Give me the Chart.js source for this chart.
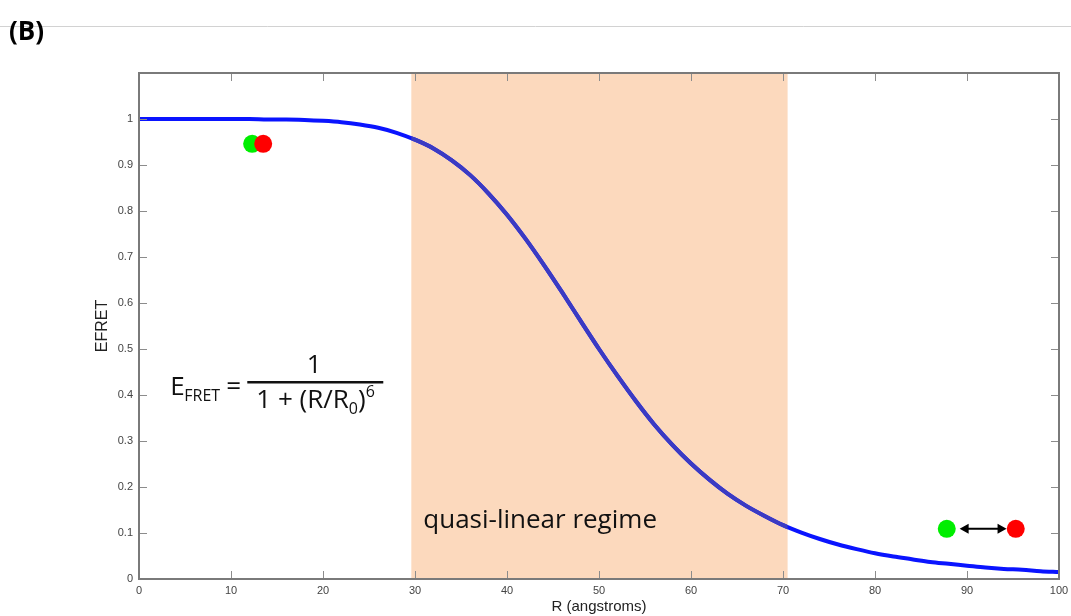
<!DOCTYPE html>
<html>
<head>
<meta charset="utf-8">
<script src="https://cdn.jsdelivr.net/npm/chart.js@4.4.1/dist/chart.umd.min.js"></script>
<style>
  html, body { margin: 0; padding: 0; background: #fff; }
  #wrap { width: 1071px; height: 616px; }
</style>
</head>
<body>
<div id="wrap"><canvas id="fretChart" width="1071" height="616"></canvas></div>
<script>
// FRET efficiency curve
const rValues = [0, 2, 4, 6, 8, 10, 12, 14, 16, 18, 20, 22, 24, 26, 28, 30, 32, 34, 36, 38, 40,
  42, 44, 46, 48, 50, 52, 54, 56, 58, 60, 62, 64, 66, 68, 70, 72, 74, 76, 78, 80,
  82, 84, 86, 88, 90, 92, 94, 96, 98, 100];
const efretValues = [1.000, 1.000, 1.000, 1.000, 1.000, 1.000, 1.000, 0.999, 0.999, 0.998, 0.996,
  0.993, 0.988, 0.981, 0.970, 0.955, 0.936, 0.910, 0.878, 0.838, 0.792,
  0.740, 0.683, 0.623, 0.561, 0.500, 0.442, 0.387, 0.336, 0.291, 0.251,
  0.216, 0.185, 0.159, 0.137, 0.117, 0.101, 0.087, 0.075, 0.065, 0.056,
  0.049, 0.043, 0.037, 0.033, 0.029, 0.025, 0.022, 0.020, 0.017, 0.015];

// shaded "quasi-linear regime" range
const bandRange = [29.6, 70.5];

// donor (green) / acceptor (red) dots: close pair, far pair
const greenX = [12.3, 87.8];
const greenY = [0.946, 0.109];
const redX = [13.5, 95.3];
const redY = [0.946, 0.109];
const arrowX = [89.2, 94.3];
const arrowY = 0.109;

const xTicks = [0, 10, 20, 30, 40, 50, 60, 70, 80, 90, 100];
const yTicks = [0, 0.1, 0.2, 0.3, 0.4, 0.5, 0.6, 0.7, 0.8, 0.9, 1];

const textFont = "'Open Sans', sans-serif";

const decor = {
  id: "decor",
  beforeDraw(chart) {
    const c = chart.ctx;
    c.save();
    c.strokeStyle = "#d2d2d2";
    c.lineWidth = 1;
    c.beginPath();
    c.moveTo(0, 26.5);
    c.lineTo(chart.width, 26.5);
    c.stroke();
    c.fillStyle = "#000";
    c.font = "bold 26px " + textFont;
    c.textBaseline = "alphabetic";
    c.fillText("(B)", 9, 40);
    c.restore();
  },
  beforeDatasetsDraw(chart) {
    const c = chart.ctx, a = chart.chartArea, x = chart.scales.x;
    const x0 = x.getPixelForValue(bandRange[0]), x1 = x.getPixelForValue(bandRange[1]);
    c.save();
    c.fillStyle = "#fcd9bd";
    c.fillRect(x0, a.top, x1 - x0, a.bottom - a.top);
    c.restore();
  },
  beforeDatasetDraw(chart, args) {
    if (args.index !== 1) return;
    const c = chart.ctx, a = chart.chartArea, x = chart.scales.x;
    const x0 = x.getPixelForValue(bandRange[0]), x1 = x.getPixelForValue(bandRange[1]);
    c.save();
    c.beginPath();
    c.rect(x0, a.top, x1 - x0, a.bottom - a.top);
    c.clip();
  },
  afterDatasetDraw(chart, args) {
    if (args.index !== 1) return;
    chart.ctx.restore();
  },
  afterDatasetsDraw(chart) {
    const c = chart.ctx, x = chart.scales.x, y = chart.scales.y;
    c.save();
    // double arrow between the far pair
    const ax0 = x.getPixelForValue(arrowX[0]), ax1 = x.getPixelForValue(arrowX[1]);
    const ay = y.getPixelForValue(arrowY);
    c.strokeStyle = "#000";
    c.fillStyle = "#000";
    c.lineWidth = 2;
    c.beginPath();
    c.moveTo(ax0 + 6, ay);
    c.lineTo(ax1 - 6, ay);
    c.stroke();
    c.beginPath();
    c.moveTo(ax0, ay); c.lineTo(ax0 + 9, ay - 5); c.lineTo(ax0 + 9, ay + 5); c.closePath();
    c.moveTo(ax1, ay); c.lineTo(ax1 - 9, ay - 5); c.lineTo(ax1 - 9, ay + 5); c.closePath();
    c.fill();

    // region label
    c.fillStyle = "#111";
    c.font = "26px " + textFont;
    c.textBaseline = "alphabetic";
    c.fillText("quasi-linear regime", x.getPixelForValue(30.9), y.getPixelForValue(0.111));

    // formula
    const ex = x.getPixelForValue(3.4), ey = y.getPixelForValue(0.4);
    c.font = "26px " + textFont;
    c.fillText("E", ex, ey);
    c.font = "16px " + textFont;
    c.fillText("FRET", ex + 14, ey + 6);
    c.font = "26px " + textFont;
    c.fillText("=", ex + 56, ey);
    c.fillRect(ex + 77, ey - 14, 136, 2.5);
    c.textAlign = "center";
    c.fillText("1", ex + 144, ey - 22);
    c.textAlign = "left";
    let dx = ex + 86;
    const dy = ey + 13;
    const put = (s, size, off) => {
      c.font = size + "px " + textFont;
      c.fillText(s, dx, dy + off);
      dx += c.measureText(s).width;
    };
    put("1 + (R/R", 26, 0);
    put("0", 16, 6);
    put(")", 26, 0);
    put("6", 16, -11);
    c.restore();
  },
  afterDraw(chart) {
    const c = chart.ctx, a = chart.chartArea, x = chart.scales.x, y = chart.scales.y;
    c.save();
    c.strokeStyle = "#8c8c8c";
    c.lineWidth = 1;
    c.beginPath();
    xTicks.forEach(v => {
      const px = Math.round(x.getPixelForValue(v)) + 0.5;
      c.moveTo(px, a.bottom); c.lineTo(px, a.bottom - 8);
      c.moveTo(px, a.top); c.lineTo(px, a.top + 8);
    });
    yTicks.forEach(v => {
      const py = Math.round(y.getPixelForValue(v)) + 0.5;
      c.moveTo(a.left, py); c.lineTo(a.left + 8, py);
      c.moveTo(a.right, py); c.lineTo(a.right - 8, py);
    });
    c.stroke();
    c.strokeStyle = "#7a7a7a";
    c.lineWidth = 2;
    c.strokeRect(a.left, a.top, a.right - a.left, a.bottom - a.top);
    c.restore();
  },
};

const curve = rValues.map((r, i) => ({ x: r, y: efretValues[i] }));

new Chart(document.getElementById("fretChart"), {
  type: "line",
  data: {
    datasets: [
      {
        label: "EFRET",
        data: curve,
        borderColor: "#0a14ff",
        borderWidth: 4,
        pointRadius: 0,
        cubicInterpolationMode: "monotone",
        order: 3,
      },
      {
        label: "EFRET (in band)",
        data: curve,
        borderColor: "#3b3bc2",
        borderWidth: 4,
        pointRadius: 0,
        cubicInterpolationMode: "monotone",
        order: 2,
      },
      {
        type: "scatter",
        label: "donor",
        data: greenX.map((v, i) => ({ x: v, y: greenY[i] })),
        backgroundColor: "#00ee00",
        borderWidth: 0,
        pointRadius: 9,
        order: 1,
      },
      {
        type: "scatter",
        label: "acceptor",
        data: redX.map((v, i) => ({ x: v, y: redY[i] })),
        backgroundColor: "#ff0000",
        borderWidth: 0,
        pointRadius: 9,
        order: 0,
      },
    ],
  },
  options: {
    responsive: false,
    animation: false,
    layout: { padding: { left: 89, top: 73, right: 12, bottom: 0 } },
    plugins: {
      legend: { display: false },
      tooltip: { enabled: false },
    },
    scales: {
      x: {
        type: "linear",
        min: 0,
        max: 100,
        afterFit: (s) => { s.height = 37; s.paddingLeft = 0; s.paddingRight = 0; },
        grid: { display: false, drawTicks: false },
        border: { display: false },
        ticks: {
          stepSize: 10,
          padding: 5,
          color: "#444",
          font: { family: "'Liberation Sans', Arial", size: 11 },
        },
        title: {
          display: true,
          text: "R (angstroms)",
          color: "#222",
          padding: { top: 0, bottom: 0 },
          font: { family: "'Liberation Sans', Arial", size: 15 },
        },
      },
      y: {
        min: 0,
        max: 1.1,
        afterFit: (s) => { s.width = 50; s.paddingTop = 0; s.paddingBottom = 0; },
        grid: { display: false, drawTicks: false },
        border: { display: false },
        ticks: {
          stepSize: 0.1,
          padding: 6,
          color: "#444",
          font: { family: "'Liberation Sans', Arial", size: 11 },
          callback: (v) => (v > 1.05 ? "" : String(Math.round(v * 10) / 10)),
        },
        title: {
          display: true,
          text: "EFRET",
          color: "#222",
          padding: { top: 4, bottom: 0 },
          font: { family: "'Liberation Sans', Arial", size: 16 },
        },
      },
    },
  },
  plugins: [decor],
});
</script>
</body>
</html>
